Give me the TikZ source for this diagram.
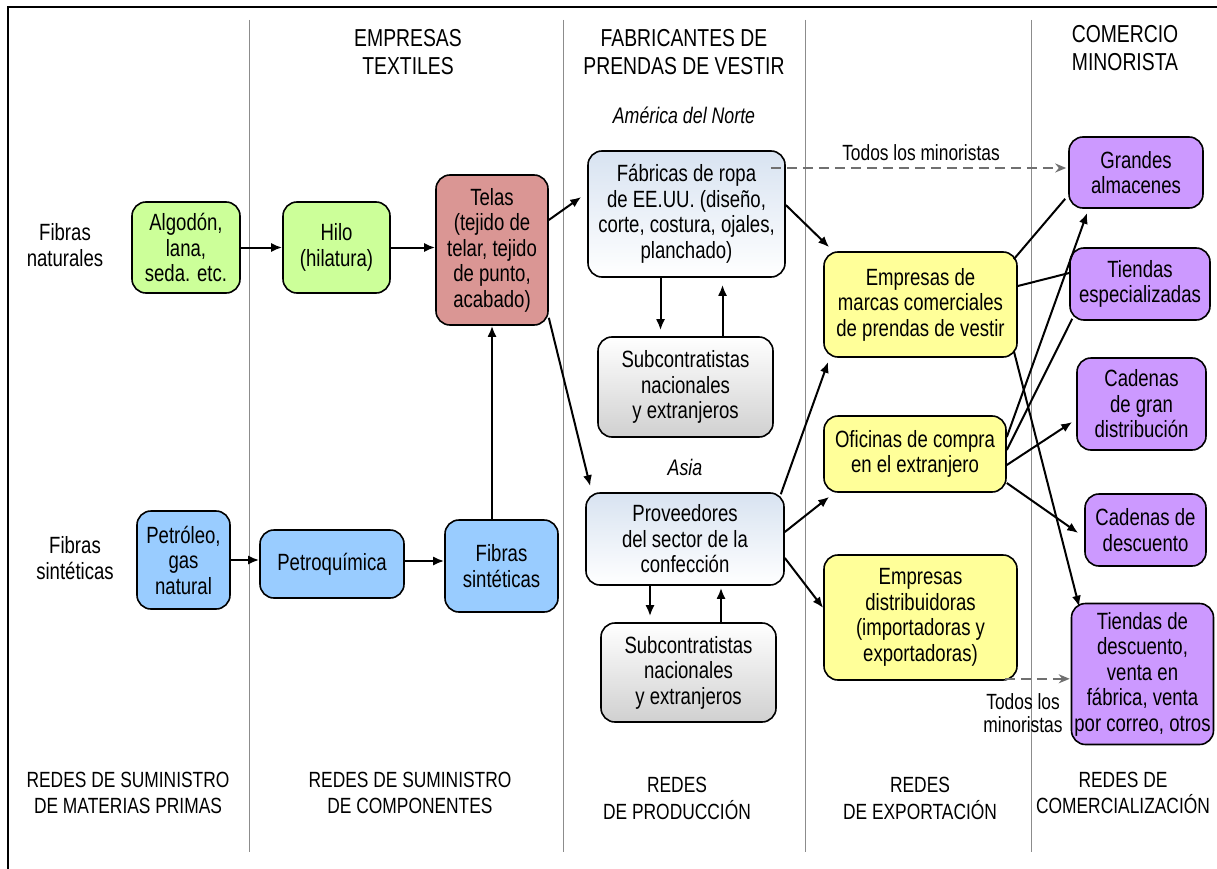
\documentclass[tikz,border=0pt]{standalone}
\usepackage{fontspec}
\setmainfont{Liberation Sans}[FakeStretch=0.79]
\usetikzlibrary{arrows.meta}
\definecolor{cgreen}{HTML}{CCFF99}
\definecolor{crose}{HTML}{DA9694}
\definecolor{cblue}{HTML}{99CCFF}
\definecolor{cyel}{HTML}{FFFF99}
\definecolor{cpurp}{HTML}{CC99FF}
\definecolor{cbtop}{HTML}{D8E3F1}
\definecolor{cgbot}{HTML}{D0D0D0}
\definecolor{dgray}{HTML}{707070}
\definecolor{divgray}{HTML}{8C8C8C}
\begin{document}
\begin{tikzpicture}[x=1pt,y=-1pt,
  box/.style={draw=black, line width=1.6pt, rounded corners=14pt, align=center, inner sep=1pt, font=\fontsize{23.5}{25.5}\selectfont},
  lbl/.style={align=center, inner sep=0pt, font=\fontsize{23.5}{25.5}\selectfont},
  hdr/.style={align=center, inner sep=0pt, font=\fontsize{24.5}{28}\selectfont},
  foot/.style={align=center, inner sep=0pt, font=\fontsize{22}{25.5}\selectfont},
  arr/.style={line width=2pt, -{Latex[length=11pt,width=9pt]}},
  lnk/.style={line width=2pt},
  dsh/.style={line width=2pt, draw=dgray, dash pattern=on 10pt off 6pt, -{Stealth[length=11pt,width=9pt]}},
  divider/.style={draw=divgray, line width=0.9pt},
]
\useasboundingbox (0,0) rectangle (1217,869);
% frame
\draw[line width=2pt] (1217,7) -- (8,7) -- (8,869);
% dividers
\foreach \xx in {249,563,805,1031} \draw[divider] (\xx,20) -- (\xx,852);

% headers
\node[hdr] (h1) at (408,52) {EMPRESAS\\TEXTILES};
\node[hdr] (h2) at (684,52) {FABRICANTES DE\\PRENDAS DE VESTIR};
\node[hdr] (h3) at (1125,48) {COMERCIO\\MINORISTA};
\node[lbl, font=\fontsize{22.5}{26}\selectfont\itshape] (na) at (684,115) {América del Norte};
\node[lbl, font=\fontsize{22.5}{26}\selectfont\itshape] (as) at (685,467) {Asia};

% left labels
\node[lbl] (fn) at (65,245) {Fibras\\naturales};
\node[lbl] (fs) at (75,558) {Fibras\\sintéticas};

% boxes
\node[box, fill=cgreen, minimum width=108pt, minimum height=91pt] (alg) at (186,247.5) {Algodón,\\lana,\\seda. etc.};
\node[box, fill=cgreen, minimum width=107pt, minimum height=91pt] (hilo) at (336.5,247.5) {Hilo\\(hilatura)};
\node[box, fill=crose, minimum width=112pt, minimum height=150pt] (telas) at (492,250) {Telas\\(tejido de\\telar, tejido\\de punto,\\acabado)};
\node[box, top color=cbtop, bottom color=white, minimum width=197pt, minimum height=126pt] (fab) at (686.5,214) {Fábricas de ropa\\de EE.UU. (diseño,\\corte, costura, ojales,\\planchado)};
\node[box, top color=white, bottom color=cgbot, minimum width=175pt, minimum height=100pt] (sub1) at (685.5,387) {Subcontratistas\\nacionales\\y extranjeros};
\node[box, top color=cbtop, bottom color=white, minimum width=198pt, minimum height=92pt] (prov) at (685,539) {Proveedores\\del sector de la\\confección};
\node[box, top color=white, bottom color=cgbot, minimum width=175pt, minimum height=99pt] (sub2) at (688.5,672.5) {Subcontratistas\\nacionales\\y extranjeros};
\node[box, fill=cyel, minimum width=193pt, minimum height=105pt] (marcas) at (920.5,304.5) {Empresas de\\marcas comerciales\\de prendas de vestir};
\node[box, fill=cyel, minimum width=182pt, minimum height=76pt] (ofic) at (915,454) {Oficinas de compra\\en el extranjero};
\node[box, fill=cyel, minimum width=193pt, minimum height=125pt] (dist) at (920.5,617.5) {Empresas\\distribuidoras\\(importadoras y\\exportadoras)};
\node[box, fill=cpurp, minimum width=134pt, minimum height=71pt] (grandes) at (1136,172.5) {Grandes\\almacenes};
\node[box, fill=cpurp, minimum width=140pt, minimum height=72pt] (tesp) at (1140,284) {Tiendas\\especializadas};
\node[box, fill=cpurp, minimum width=129pt, minimum height=92pt] (cgran) at (1141.5,404) {Cadenas\\de gran\\distribución};
\node[box, fill=cpurp, minimum width=121pt, minimum height=72pt] (cdesc) at (1145.5,530) {Cadenas de\\descuento};
\node[box, fill=cpurp, minimum width=142pt, minimum height=141pt] (tdesc) at (1142.5,674) {Tiendas de\\descuento,\\venta en\\fábrica, venta\\por correo, otros};
\node[box, fill=cblue, minimum width=93pt, minimum height=98pt] (petr) at (183.5,560) {Petróleo,\\gas\\natural};
\node[box, fill=cblue, minimum width=144pt, minimum height=68pt] (petq) at (332,564) {Petroquímica};
\node[box, fill=cblue, minimum width=113pt, minimum height=92pt] (fsint) at (501.5,566) {Fibras\\sintéticas};

% bottom labels
\node[foot] (b1) at (128,793) {REDES DE SUMINISTRO\\DE MATERIAS PRIMAS};
\node[foot] (b2) at (410,793) {REDES DE SUMINISTRO\\DE COMPONENTES};
\node[foot] (b3a) at (677,785) {REDES};
\node[foot] (b3b) at (677,810) {DE PRODUCCIÓN};
\node[foot] (b4a) at (920,785) {REDES};
\node[foot] (b4b) at (920,810) {DE EXPORTACIÓN};
\node[foot] (b5) at (1123,793) {REDES DE\\COMERCIALIZACIÓN};

% arrows left
\draw[arr] (alg.east) -- (hilo.west);
\draw[arr] (hilo.east) -- (hilo.east -| telas.west);
\draw[arr] (telas.south |- fsint.north) -- (telas.south);
\draw[arr] (petr.east) -- (petr.east -| petq.west);
\draw[arr] ([yshift=3pt]petq.east) -- ([yshift=3pt]petq.east -| fsint.west);
\draw[arr] ([yshift=30pt]telas.east) -- ([xshift=-6pt,yshift=17pt]fab.west);
\draw[arr] ([yshift=8pt]telas.south east) -- ([xshift=5pt,yshift=6pt]prov.north west);

% production
\draw[arr, shorten >=6pt] ([xshift=-26pt]fab.south) -- ([xshift=-26pt]fab.south |- sub1.north);
\draw[arr, shorten >=7pt] ([xshift=37pt]sub1.north) -- ([xshift=37pt]sub1.north |- fab.south);
\draw[arr, shorten >=6pt] ([xshift=-35pt]prov.south) -- ([xshift=-35pt]prov.south |- sub2.north);
\draw[arr, shorten >=2pt] ([xshift=32.5pt]sub2.north) -- ([xshift=32.5pt]sub2.north |- prov.south);

% to export
\draw[arr] ([yshift=9pt]fab.east) -- ([xshift=6pt,yshift=4pt]marcas.north west);
\draw[arr] ([xshift=-4pt,yshift=-2pt]prov.north east) -- ([xshift=5pt,yshift=-4pt]marcas.south west);
\draw[arr] ([yshift=7pt]prov.east) -- ([xshift=6pt,yshift=-4pt]ofic.south west);
\draw[arr] ([yshift=-19pt]prov.east) -- ([yshift=9.5pt]dist.west);

% dashed
\coordinate (d1) at ([xshift=-15pt,yshift=46pt]fab.east);
\draw[dsh, shorten >=2pt] (d1) -- (d1 -| grandes.west);
\node[lbl, font=\fontsize{22}{25}\selectfont] (t1) at (921,153) {Todos los minoristas};
\coordinate (d2) at ([xshift=-13pt,yshift=2pt]dist.south east);
\draw[dsh, shorten >=1pt] (d2) -- (d2 -| tdesc.west);
\node[lbl, font=\fontsize{22}{23.5}\selectfont] (t2) at (1023,713) {Todos los\\minoristas};

% to retail
\draw[lnk] ([xshift=-4pt,yshift=-8pt]marcas.north east) -- ([xshift=-3pt,yshift=10pt]grandes.south west);
\draw[lnk] ([yshift=18.5pt]marcas.east) -- ([yshift=11pt]tesp.west);
\draw[arr] ([xshift=-4pt,yshift=7pt]marcas.south east) -- ([xshift=8.5pt,yshift=-4pt]tdesc.north west);
\draw[arr] ([yshift=17pt]ofic.east) -- ([xshift=19pt,yshift=-4pt]grandes.south west);
\draw[lnk] ([yshift=4pt]ofic.east) -- ([xshift=3pt,yshift=2pt]tesp.south west);
\draw[arr] ([yshift=-11pt]ofic.east) -- ([xshift=-4pt,yshift=-18pt]cgran.west);
\draw[arr] ([yshift=-29pt]ofic.east) -- ([xshift=-6pt,yshift=-3pt]cdesc.west);
\end{tikzpicture}
\end{document}
